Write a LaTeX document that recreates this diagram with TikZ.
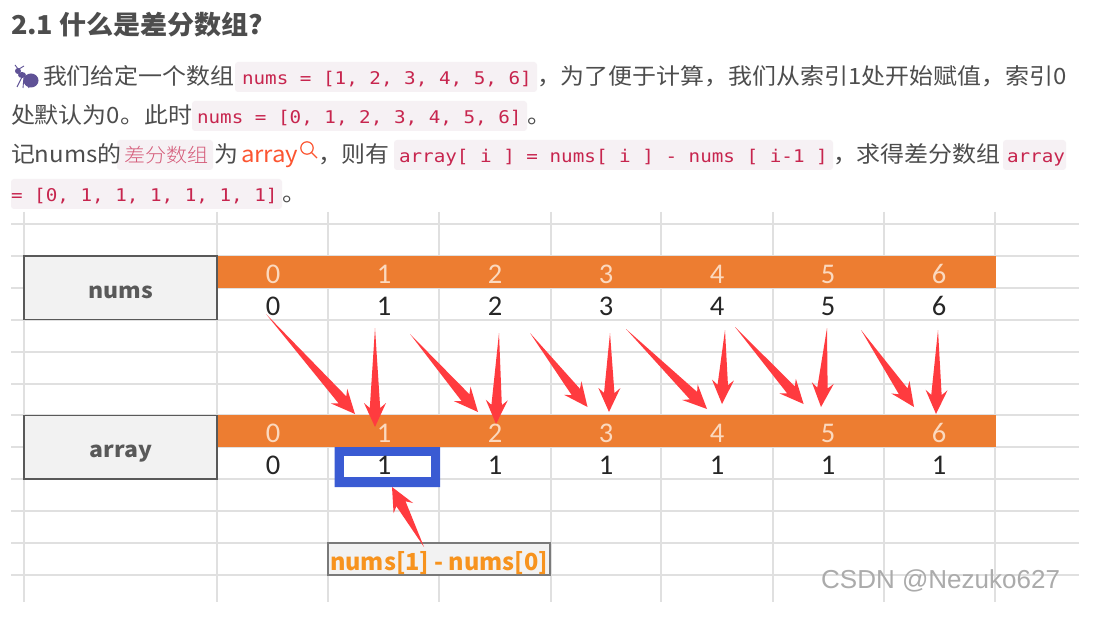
\documentclass[tikz,border=0pt]{standalone}
\usepackage{fontspec}
\usetikzlibrary{calc}
\setmainfont{Liberation Sans}
\newfontfamily\cjkbody[FakeStretch=1.07]{Noto Sans CJK SC}
\newfontfamily\cjkhead[FakeStretch=1.04]{Noto Sans CJK SC}
\newfontfamily\cjklight[FakeStretch=1.08]{Noto Sans CJK SC Light}
\newfontfamily\formfont{Noto Sans CJK SC}
\newfontfamily\codefont[FakeStretch=1.10]{DejaVu Sans Mono}
\newfontfamily\cellfont{Carlito}
\definecolor{bodytxt}{HTML}{4D4D4D}
\definecolor{codebg}{HTML}{F6F1F4}
\definecolor{codetxt}{HTML}{C7254E}
\definecolor{linkc}{HTML}{FC5531}
\definecolor{gridc}{HTML}{E0E0E0}
\definecolor{bandc}{HTML}{ED7D31}
\definecolor{boxfill}{HTML}{F2F2F2}
\definecolor{boxline}{HTML}{595959}
\definecolor{arrowc}{HTML}{FF3B3F}
\definecolor{bluec}{HTML}{3A5BD3}
\definecolor{formc}{HTML}{F7931E}
\definecolor{antc}{HTML}{5F5296}
\definecolor{hdrdig}{HTML}{FBD9BF}
\tikzset{
  x=1pt,y=-1pt,
  txt/.style={anchor=base west,inner sep=0pt,outer sep=0pt,text=bodytxt,font=\cjkbody\fontsize{22.4}{24}\selectfont},
  codet/.style={anchor=base west,inner sep=0pt,outer sep=0pt,text=codetxt,font=\codefont\fontsize{17.5}{20}\selectfont},
  codebox/.style={fill=codebg,rounded corners=3pt},
  hdr/.style={anchor=base,inner sep=0pt,text=hdrdig,font=\cellfont\fontsize{28.5}{30}\selectfont},
  val/.style={anchor=base,inner sep=0pt,text=black!85,font=\cellfont\fontsize{28.5}{30}\selectfont},
  rowlabel/.style={anchor=base,inner sep=0pt,text=boxline,font=\cjkbody\bfseries\fontsize{21.5}{24}\selectfont},
  gridline/.style={draw=gridc,line width=1.1pt},
  labelbox/.style={fill=boxfill,draw=boxline,line width=1.2pt},
}
\newcommand{\redarrow}[2]{%
  \coordinate (n) at ($(#2)!24pt!(#1)$);
  \coordinate (m) at ($(#2)!19pt!(#1)$);
  \fill[arrowc] (#1)
    -- ($(m)!5.2pt!90:(#1)$) -- ($(n)!11pt!90:(#1)$)
    -- (#2)
    -- ($(n)!11pt!-90:(#1)$) -- ($(m)!5.2pt!-90:(#1)$) -- cycle;
}
\begin{document}
\begin{tikzpicture}
\useasboundingbox (0,0) rectangle (1103,631);
\fill[white] (0,0) rectangle (1103,631);
% heading
\node[txt,font=\cjkhead\bfseries\fontsize{26}{28}\selectfont] (head) at (11,35) {2.1 什么是差分数组?};
% code backgrounds
\fill[codebox] (235,62) rectangle (537,92);
\fill[codebox] (192,101) rectangle (527,131);
\fill[codebox] (117,140) rectangle (213,170);
\fill[codebox] (394,140) rectangle (833,170);
\fill[codebox] (1003,140) rectangle (1066,170);
\fill[codebox] (11,179) rectangle (282,209);
% ant icon
\fill[antc] (31,80.5) ellipse (7.5 and 7);
\fill[antc] (22,75) ellipse (4 and 3);
\fill[antc] (18,71) circle (3);
\draw[antc,line width=.9pt] (18,69) -- (15,65) (19,69) -- (24,66)
  (22,77) -- (17,87) (24,77) -- (23,88) (26,78) -- (29,88);
% line 1
\node[txt] (l1a) at (43,85) {我们给定一个数组};
\node[codet] (l1b) at (242,85) {nums = [1, 2, 3, 4, 5, 6]};
\node[txt] (l1c) at (537,85) {，为了便于计算，我们从索引1处开始赋值，索引0};
% line 2
\node[txt] (l2a) at (11,124) {处默认为0。此时};
\node[codet] (l2b) at (197,124) {nums = [0, 1, 2, 3, 4, 5, 6]};
\node[txt] (l2c) at (527,124) {。};
% line 3
\node[txt] (l3a) at (11,163) {记nums的};
\node[txt,text=codetxt!75,font=\cjklight\fontsize{19.5}{24}\selectfont] (l3b) at (124,163) {差分数组};
\node[txt] (l3c) at (214,163) {为};
\node[txt,text=linkc] (l3d) at (241,163) {array};
\draw[linkc,line width=1.2pt] (307,148) circle (6.2) (311.5,152.5) -- (317,158);
\node[txt] (l3e) at (318,163) {，则有};
\node[codet] (l3f) at (399,163) {array[ i ] = nums[ i ] - nums [ i-1 ]};
\node[txt] (l3g) at (833,163) {，求得差分数组};
\node[codet] (l3h) at (1007,163) {array};
% line 4
\node[codet] (l4a) at (11,202) {= [0, 1, 1, 1, 1, 1, 1]};
\node[txt] (l4b) at (282,202) {。};
% grid
\foreach \yy in {224,256,288,320,352,384,415,447,479,511,543,575}
  \draw[gridline] (11,\yy) -- (1079,\yy);
\foreach \xx in {24,217,328,439,551,661,773,884,995}
  \draw[gridline] (\xx,212) -- (\xx,602);
% bands
\fill[bandc] (217,255.5) rectangle (995.5,288);
\fill[bandc] (217,414.5) rectangle (995.5,447);
% label boxes
\draw[labelbox] (24,256) rectangle (217,319.5);
\draw[labelbox] (24,415.5) rectangle (217,479);
\node[rowlabel] (numsl) at (121,298) {nums};
\node[rowlabel] (arrayl) at (121,457) {array};
% blue highlight
\fill[bluec,even odd rule] (334.5,447) rectangle (440,487) (344,456) rectangle (431,477);
\fill[white] (344,456) rectangle (431,477);
% cells
\foreach \cx/\i in {273/0,384/1,495/2,606/3,717/4,828/5,939/6} {
  \node[hdr] (na\i) at (\cx,283) {\i};
  \node[val] (nb\i) at (\cx,315) {\i};
  \node[hdr] (aa\i) at (\cx,442) {\i};
}
\foreach \cx/\i/\v in {273/0/0,384/1/1,495/2/1,606/3/1,717/4/1,828/5/1,939/6/1}
  \node[val] (ab\i) at (\cx,474) {\v};
% formula box
\path[draw=boxline!80,line width=1.1pt,fill=boxfill] (328,543) rectangle (550,575);
\node[anchor=base,inner sep=0pt,text=formc,font=\formfont\bfseries\fontsize{23.5}{26}\selectfont] (formula) at (439,570) {nums[1] - nums[0]};
% arrows
\foreach \n/\ax/\ay/\bx/\by in {
 a/266/314/355/414, b/375/328/375/427, c/410/334/478/412, d/499/333/496/424,
 e/530/333/587.5/407, f/610/333/609/412, g/626/329/707/409, h/725/330/722/404,
 i/735/327/803.6/404, j/827/328/821/407, k/861/330/914/407, l/938/330/936/414,
 m/424/547/392/487} {
  \coordinate (t\n) at (\ax,\ay);
  \coordinate (p\n) at (\bx,\by);
  \redarrow{t\n}{p\n}
}
% watermark
\node[anchor=base west,inner sep=0pt,text=black!33,font=\fontsize{26}{28}\selectfont] (wm) at (821,588) {CSDN @Nezuko627};
\end{tikzpicture}
\end{document}
